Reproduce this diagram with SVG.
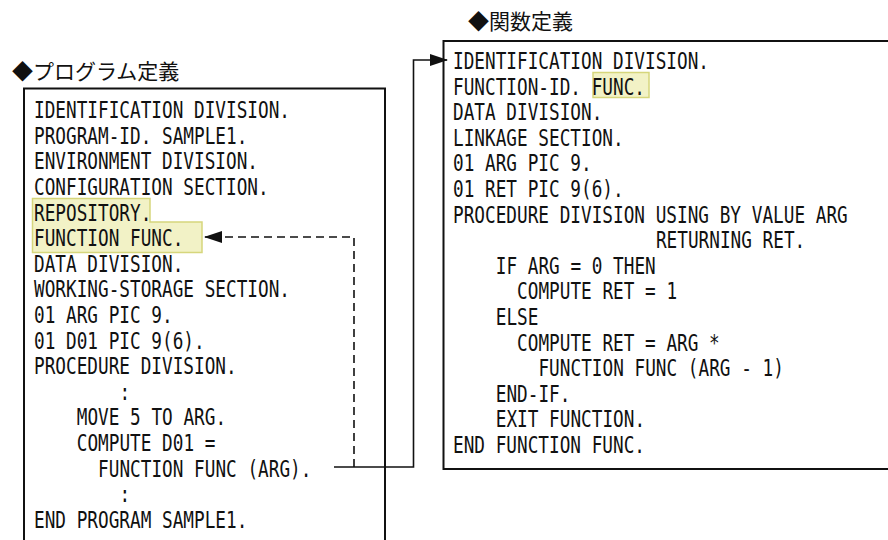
<svg xmlns="http://www.w3.org/2000/svg" width="888" height="540" viewBox="0 0 888 540">
<style>
.code{font-family:"DejaVu Sans Mono","Liberation Mono",monospace;font-size:23px;fill:#111}
.title{font-family:"Noto Sans CJK JP","Noto Sans",sans-serif;font-size:21px;fill:#111}
.box{fill:#fff;stroke:#111;stroke-width:2}
.hl{fill:#f2f2c6;stroke:#d6d67c;stroke-width:1.5}
.conn{fill:none;stroke:#111;stroke-width:1.6}
.dash{stroke-dasharray:8 5}
</style>
<defs>
<marker id="ah" viewBox="0 0 18 12" refX="17" refY="6" markerWidth="18" markerHeight="12" markerUnits="userSpaceOnUse" orient="auto">
<path d="M0,0 L18,6 L0,12 Z" fill="#111"/>
</marker>
</defs>

<g id="program-def">
<text class="title" x="12" y="79">◆プログラム定義</text>
<rect class="box" x="24" y="88.5" width="361" height="480"/>
<path class="hl" d="M32.5,198.5 H150 V222 H202 V252.5 H32.5 Z"/>
<g transform="translate(34 0) scale(0.7713 1)">
<text class="code" x="0" y="118.3">IDENTIFICATION DIVISION.</text>
<text class="code" x="0" y="143.9">PROGRAM-ID. SAMPLE1.</text>
<text class="code" x="0" y="169.5">ENVIRONMENT DIVISION.</text>
<text class="code" x="0" y="195.1">CONFIGURATION SECTION.</text>
<text class="code" x="0" y="220.7">REPOSITORY.</text>
<text class="code" x="0" y="246.3">FUNCTION FUNC.</text>
<text class="code" x="0" y="271.9">DATA DIVISION.</text>
<text class="code" x="0" y="297.5">WORKING-STORAGE SECTION.</text>
<text class="code" x="0" y="323.1">01 ARG PIC 9.</text>
<text class="code" x="0" y="348.7">01 D01 PIC 9(6).</text>
<text class="code" x="0" y="374.3">PROCEDURE DIVISION.</text>
<text class="code" x="110.8" y="399.9">:</text>
<text class="code" x="55.4" y="425.5">MOVE 5 TO ARG.</text>
<text class="code" x="55.4" y="451.1">COMPUTE D01 =</text>
<text class="code" x="83.1" y="476.7">FUNCTION FUNC (ARG).</text>
<text class="code" x="110.8" y="502.3">:</text>
<text class="code" x="0" y="527.9">END PROGRAM SAMPLE1.</text>
</g>
</g>

<g id="function-def">
<text class="title" x="468" y="29">◆関数定義</text>
<rect class="box" x="443.5" y="41" width="460" height="428"/>
<rect class="hl" x="593" y="72.5" width="56" height="25"/>
<g transform="translate(453 0) scale(0.7713 1)">
<text class="code" x="0" y="69">IDENTIFICATION DIVISION.</text>
<text class="code" x="0" y="94.6">FUNCTION-ID. FUNC.</text>
<text class="code" x="0" y="120.2">DATA DIVISION.</text>
<text class="code" x="0" y="145.8">LINKAGE SECTION.</text>
<text class="code" x="0" y="171.4">01 ARG PIC 9.</text>
<text class="code" x="0" y="197">01 RET PIC 9(6).</text>
<text class="code" x="0" y="222.6">PROCEDURE DIVISION USING BY VALUE ARG</text>
<text class="code" x="263.1" y="248.2">RETURNING RET.</text>
<text class="code" x="55.4" y="273.8">IF ARG = 0 THEN</text>
<text class="code" x="83.1" y="299.4">COMPUTE RET = 1</text>
<text class="code" x="55.4" y="325">ELSE</text>
<text class="code" x="83.1" y="350.6">COMPUTE RET = ARG *</text>
<text class="code" x="110.8" y="376.2">FUNCTION FUNC (ARG - 1)</text>
<text class="code" x="55.4" y="401.8">END-IF.</text>
<text class="code" x="55.4" y="427.4">EXIT FUNCTION.</text>
<text class="code" x="0" y="453">END FUNCTION FUNC.</text>
</g>
</g>

<g id="connectors">
<path class="conn dash" d="M354,467 V237 H205" marker-end="url(#ah)"/>
<path class="conn" d="M334,467 H413.5 V60 H447" marker-end="url(#ah)"/>
</g>
</svg>
